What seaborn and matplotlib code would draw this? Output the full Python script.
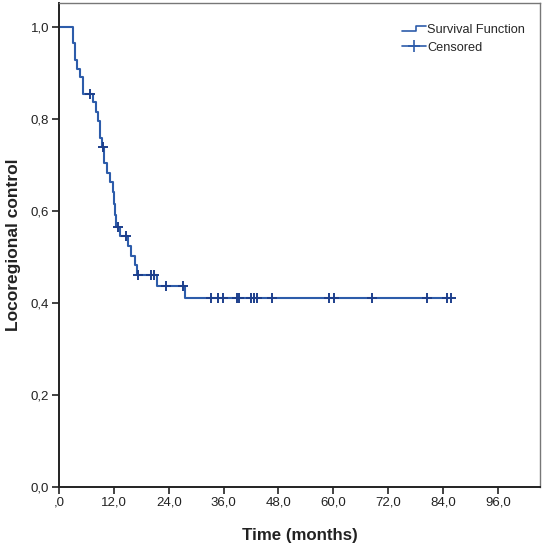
import numpy as np
import pandas as pd
import matplotlib
matplotlib.use("Agg")
import matplotlib.pyplot as plt
import seaborn as sns
from matplotlib.lines import Line2D
from matplotlib.legend_handler import HandlerBase
from matplotlib.ticker import FuncFormatter

# Kaplan-Meier steps (months, survival after the drop)
step_times = [0, 3.0, 3.5, 4.0, 4.6, 5.3, 7.4, 8.0, 8.6, 9.0, 9.3, 9.9, 10.6,
              11.2, 11.7, 12.0, 12.2, 12.4, 13.3, 15.0, 15.7, 16.6, 17.0,
              21.4, 27.6]
survival = [1.0, 0.964, 0.928, 0.909, 0.891, 0.854, 0.837, 0.815, 0.795,
            0.758, 0.739, 0.703, 0.682, 0.662, 0.641, 0.615, 0.590, 0.565,
            0.545, 0.522, 0.501, 0.482, 0.460, 0.436, 0.410]

# censored observations (months)
censor_times = [6.8, 9.6, 12.8, 14.6, 17.2, 20.1, 20.8, 23.3, 27.2, 33.3,
                34.8, 35.8, 38.9, 39.4, 42.0, 42.6, 43.3, 46.5, 59.0, 60.2,
                68.4, 80.4, 84.8, 85.7]

x_ticks = [0, 12, 24, 36, 48, 60, 72, 84, 96]
y_ticks = [0.0, 0.2, 0.4, 0.6, 0.8, 1.0]

line_color = "#2d5caa"
mark_color = "#1d3f8c"

# curve runs until the last censored case
curve = pd.DataFrame({"time": step_times + [max(censor_times)],
                      "surv": survival + [survival[-1]]})

# survival level at each censored time (step lookup)
idx = np.searchsorted(step_times, censor_times, side="right") - 1
cens = pd.DataFrame({"time": censor_times,
                     "surv": np.array(survival)[idx]})

sns.set_style("white")
plt.rcParams["font.family"] = ["Liberation Sans", "DejaVu Sans"]

fig = plt.figure(figsize=(5.45, 5.45), dpi=100)
ax = fig.add_axes([0.1083, 0.1073, 0.8825, 0.8872])

sns.lineplot(data=curve, x="time", y="surv", ax=ax, color=line_color,
             linewidth=1.5, drawstyle="steps-post", sort=False)
sns.scatterplot(data=cens, x="time", y="surv", ax=ax, marker="+",
                s=45, color=mark_color, linewidth=1.4, zorder=3)

ax.set_xlim(0, 105.2)
ax.set_ylim(0, 1.0515)
ax.set_xticks(x_ticks)
ax.set_yticks(y_ticks)

# SPSS style comma decimals, zero on x shown as ",0"
ax.xaxis.set_major_formatter(FuncFormatter(
    lambda v, p: ",0" if abs(v) < 1e-9 else ("%.1f" % v).replace(".", ",")))
ax.yaxis.set_major_formatter(FuncFormatter(
    lambda v, p: ("%.1f" % v).replace(".", ",")))

ax.tick_params(axis="both", direction="out", length=5, width=1.2,
               color="#222222", labelsize=9.5, labelcolor="#222222",
               bottom=True, left=True, pad=2)

for side in ["left", "bottom"]:
    ax.spines[side].set_color("#222222")
    ax.spines[side].set_linewidth(1.4)
for side in ["top", "right"]:
    ax.spines[side].set_color("#777777")
    ax.spines[side].set_linewidth(1.0)

ax.set_xlabel("Time (months)", fontsize=12.2, fontweight="bold",
              color="#222222", labelpad=14)
ax.set_ylabel("Locoregional control", fontsize=12.5, fontweight="bold",
              color="#222222", labelpad=7)


# step-shaped legend icon like SPSS
class StepHandler(HandlerBase):
    def create_artists(self, legend, orig_handle, xdescent, ydescent,
                       width, height, fontsize, trans):
        x0, x1 = -xdescent, -xdescent + width
        xm = x0 + width * 0.6
        ylo = -ydescent + height * 0.2
        yhi = -ydescent + height * 0.85
        ln = Line2D([x0, xm, xm, x1], [ylo, ylo, yhi, yhi],
                    color=orig_handle.get_color(), linewidth=1.2,
                    transform=trans)
        return [ln]


h_surv = Line2D([], [], color=line_color)
h_cens = Line2D([], [], color=line_color, linewidth=1.2, marker="+",
                markersize=9, markeredgewidth=1.2, markeredgecolor=line_color)
ax.legend([h_surv, h_cens], ["Survival Function", "Censored"],
          handler_map={h_surv: StepHandler()},
          loc="upper right", bbox_to_anchor=(0.985, 0.972), frameon=False,
          fontsize=9.2, handlelength=1.9, handletextpad=0.1,
          labelspacing=0.45, borderaxespad=0.2)

fig.savefig("out.png", dpi=100)
